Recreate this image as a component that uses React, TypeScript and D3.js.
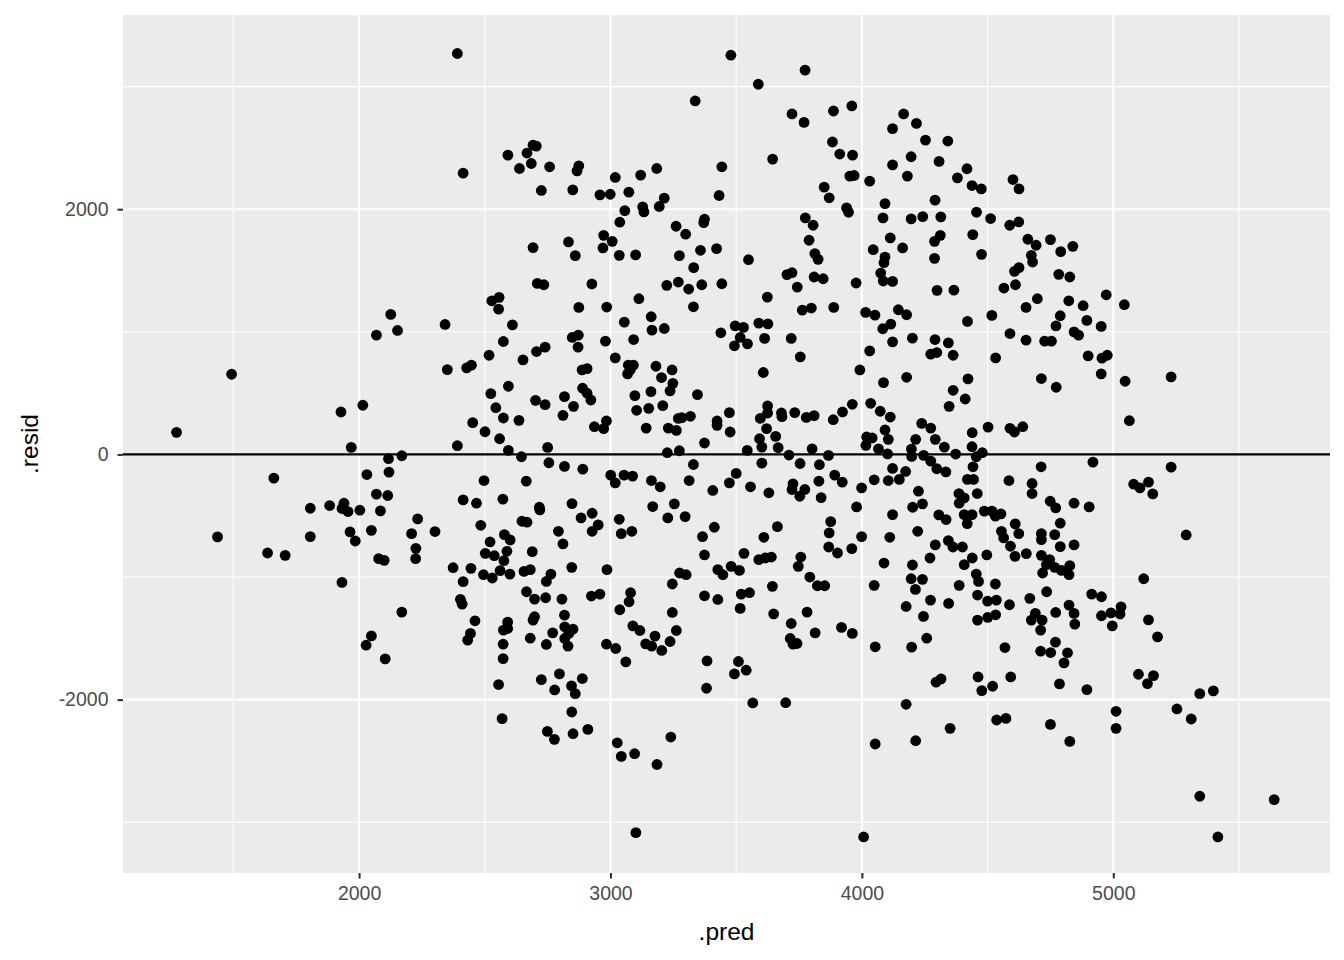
import { useEffect, useRef } from 'react'
import * as d3 from 'd3'

// residuals vs fitted values: [.pred, .resid]
const upperPoints: [number, number][] = [
  [2391, 3270], [3337, 2883], [2414, 2294], [2592, 2441], [2668, 2458], [2692, 2523], [2705, 2515], [2685, 2373],
  [2638, 2332], [2758, 2346], [2874, 2354], [2867, 2313], [2725, 2153], [2850, 2158], [2958, 2117], [2999, 2122],
  [3019, 2259], [3073, 2139], [3120, 2278], [3184, 2332], [3214, 2090], [3194, 2022], [3057, 1989], [3128, 2019],
  [3133, 1978], [3443, 2346], [3432, 2112], [3037, 1894], [2973, 1787], [3007, 1738], [2970, 1684], [3035, 1624],
  [3100, 1627], [2833, 1733], [2860, 1621], [2692, 1687], [2709, 1395], [2735, 1384], [2926, 1390], [2557, 1281],
  [2528, 1253], [3113, 1270], [3261, 1861], [3299, 1796], [3374, 1918], [3371, 1891], [3358, 1665], [3422, 1678],
  [3274, 1621], [3331, 1523], [3224, 1379], [3270, 1406], [3311, 1349], [3363, 1384], [3443, 1392],
  [3479, 3256], [3774, 3134], [3588, 3019], [3722, 2777], [3770, 2708], [3887, 2801], [3960, 2842], [3883, 2548],
  [3912, 2450], [3963, 2441], [3952, 2270], [3969, 2275], [3645, 2409], [3850, 2180], [3870, 2093], [3939, 2011],
  [3947, 1975], [4031, 2229], [4122, 2362], [4166, 2777], [4122, 2657], [4217, 2700], [4253, 2564], [4342, 2556],
  [4196, 2428], [4307, 2390], [4181, 2270], [4418, 2330], [4380, 2256], [4438, 2193], [4475, 2166], [4291, 2074],
  [4092, 2046], [4084, 1929], [4196, 1921], [4242, 1940], [4314, 1937], [4456, 1975], [4512, 1924], [4601, 2242],
  [4625, 2166], [4588, 1869], [4624, 1896], [4660, 1755], [3775, 1929], [3806, 1869], [3790, 1747], [3813, 1638],
  [3826, 1591], [3549, 1588], [3702, 1466], [3722, 1482], [3810, 1447], [3846, 1433], [3743, 1365], [3977, 1398],
  [3624, 1283], [4045, 1670], [4113, 1766], [4162, 1684], [4092, 1610], [4088, 1564], [4075, 1479], [4085, 1414],
  [4122, 1411], [4289, 1738], [4312, 1787], [4289, 1599], [4441, 1793], [4476, 1632], [4299, 1338], [4366, 1340],
  [4625, 1523], [4607, 1493], [4611, 1384], [4565, 1357],
  [4693, 1706], [4750, 1752], [4791, 1654], [4839, 1697], [4674, 1624], [4679, 1569], [4783, 1469], [4827, 1447],
  [4698, 1270], [4823, 1253], [4972, 1302],
]

const leftPoints: [number, number][] = [
  [2126, 1142], [2153, 1011], [2069, 973], [1493, 654], [1274, 180], [2015, 401], [1928, 346], [1969, 57],
  [2117, -35], [2170, -11], [2031, -164], [2119, -144], [1661, -193], [2069, -324], [2114, -335], [1806, -439],
  [1883, -417], [1940, -398], [1932, -441], [1956, -466], [2003, -455], [2085, -461], [2233, -526], [2209, -646],
  [2226, -766], [2225, -850], [1437, -673], [1806, -670], [1964, -632], [1985, -706], [2049, -619], [1636, -804],
  [1706, -823], [2078, -850], [2100, -864], [1932, -1044],
  [2170, -1286], [2049, -1480], [2028, -1556], [2104, -1668],
]

const midLeftPoints: [number, number][] = [
  [2555, 1185], [2342, 1060], [2610, 1057], [2874, 1199], [2985, 1202], [3330, 1204], [3055, 1079], [3162, 1123],
  [3165, 1014], [3214, 1027], [3439, 992], [2848, 954], [2872, 973], [2871, 875], [2980, 924], [3092, 937],
  [2574, 921], [2706, 839], [2740, 875], [2517, 809], [2652, 771], [2351, 692], [2428, 706], [2447, 728],
  [2887, 689], [2907, 700], [3019, 788], [3071, 728], [3091, 728], [3079, 692], [3068, 657], [3181, 719],
  [3245, 689], [3203, 627], [3248, 580], [3237, 518], [3161, 512], [3346, 488], [2594, 556], [2524, 496],
  [2702, 441], [2740, 406], [2817, 471], [2853, 392], [2811, 319], [2889, 540], [2907, 499], [2922, 444],
  [3097, 480], [3104, 360], [3152, 376], [3208, 398], [2544, 381], [2574, 297], [2636, 278], [2452, 259],
  [2501, 185], [2559, 128], [2391, 71], [2594, 33], [2646, -19], [2750, 57], [2755, -68], [2817, -98],
  [2890, -120], [2936, 226], [2973, 210], [2984, 273], [3142, 215], [3270, 294], [3284, 300], [3318, 311],
  [3230, 215], [3262, 196], [3424, 273], [3424, 237], [3374, 93], [3226, 14], [3274, 30], [3330, -82],
  [3313, -213], [3407, -294], [3001, -169], [3019, -232], [3054, -169], [3088, -177], [3163, -213], [3198, -264],
  [2497, -213], [2665, -218], [2414, -371], [2467, -398], [2572, -365], [2717, -431], [2719, -452], [2847, -401],
  [2883, -518], [2927, -480], [3035, -529], [3168, -425], [3254, -403], [3228, -518], [3297, -507], [2302, -629],
  [2484, -578], [2648, -545], [2668, -553], [2793, -627], [2811, -730], [2927, -627], [2951, -575], [3043, -646],
  [3085, -627], [3366, -670], [3413, -594], [3374, -820], [2521, -714], [2578, -654], [2601, -698], [2502, -807],
  [2538, -826], [2588, -790], [2576, -867], [2689, -793], [2374, -924], [2445, -929], [2414, -1038], [2495, -981],
  [2530, -1008], [2561, -948], [2600, -976], [2656, -954], [2681, -940], [2745, -1036], [2763, -976], [2846, -921],
  [2986, -940], [3275, -967], [3301, -981], [3246, -1057], [3427, -940], [3447, -981],
  [2403, -1182], [2410, -1221], [2461, -1357], [2443, -1460], [2432, -1515], [2574, -1433], [2591, -1368], [2591, -1420],
  [2573, -1548], [2573, -1665], [2555, -1877], [2666, -1120], [2698, -1180], [2742, -1169], [2807, -1180], [2924, -1155],
  [2958, -1139], [2698, -1324], [2692, -1351], [2681, -1499], [2745, -1550], [2770, -1455], [2817, -1311], [2818, -1406],
  [2851, -1425], [2818, -1501], [2831, -1564], [2834, -1460], [2725, -1837], [2797, -1790], [2778, -1921], [2845, -1888],
  [2888, -1828], [2860, -1951], [2569, -2155], [2846, -2101], [2749, -2259], [2777, -2324], [2851, -2278], [2910, -2243],
  [2984, -1548], [3021, -1583], [3061, -1692], [3037, -1267], [3074, -1202], [3080, -1128], [3246, -1289], [3374, -1153],
  [3427, -1183], [3089, -1398], [3117, -1436], [3177, -1482], [3140, -1545], [3164, -1564], [3204, -1599], [3237, -1526],
  [3262, -1436], [3384, -1684], [3382, -1907], [3027, -2352], [3043, -2463], [3096, -2441], [3185, -2529], [3240, -2305],
  [3101, -3085],
]

const midRightPoints: [number, number][] = [
  [3763, 1177], [3799, 1194], [3888, 1199], [3496, 1049], [3529, 1036], [3590, 1071], [3626, 1065], [3516, 954],
  [3493, 886], [3545, 902], [3613, 946], [3719, 946], [3755, 796], [3608, 668], [4015, 1158], [4052, 1136],
  [4145, 1180], [4178, 1139], [4083, 1025], [4115, 1063], [4122, 918], [4201, 948], [4031, 845], [3992, 689],
  [4086, 586], [4178, 629], [4291, 937], [4344, 910], [4274, 818], [4298, 831], [4363, 809], [4420, 1085],
  [4517, 1134], [4532, 788], [4589, 986], [4653, 1199], [4653, 932], [4422, 616], [4363, 523], [4411, 452],
  [4347, 392], [3473, 341], [3476, 183], [3625, 395], [3625, 338], [3596, 294], [3680, 338], [3682, 308],
  [3733, 341], [3779, 302], [3810, 316], [3886, 283], [3923, 346], [3962, 409], [3621, 210], [3657, 147],
  [3593, 128], [3602, 60], [3667, 55], [3544, 33], [3710, -5], [3802, 46], [3867, -8], [3602, -71],
  [3754, -74], [3831, -84], [3500, -155], [3473, -232], [3557, -264], [3630, -313], [3726, -240], [3722, -286],
  [3753, -341], [3773, -286], [3829, -218], [3838, -352], [3892, -169], [3922, -226], [4035, 417], [4073, 352],
  [4113, 305], [4092, 199], [4105, 123], [4019, 142], [4041, 134], [4016, 74], [4066, 46], [4102, 5],
  [4122, -114], [4049, -207], [4105, -213], [4149, -204], [4174, -139], [3999, -273], [3979, -428], [4122, -491],
  [4197, 44], [4214, 123], [4198, -16], [4238, 253], [4274, 215], [4292, 123], [4328, 60], [4246, -8],
  [4274, -55], [4298, -117], [4334, -142], [4373, 3], [4439, 177], [4438, 63], [4479, 14], [4455, -19],
  [4442, -101], [4420, -204], [4444, -204], [4502, 223], [4589, 213], [4607, 183], [4640, 226], [4585, -213],
  [4225, -300], [4241, -403], [4202, -431], [4386, -319], [4407, -354], [4387, -398], [4459, -319], [4306, -493],
  [4335, -531], [4407, -491], [4438, -491], [4419, -564], [4487, -463], [4517, -463], [4531, -504], [4553, -485],
  [4610, -567], [4624, -646], [4555, -627], [4564, -681], [4591, -749], [4654, -809], [4609, -831], [4222, -627],
  [4111, -676], [3999, -670], [3876, -548], [3870, -640], [3664, -589], [3610, -676], [3868, -755], [3903, -804],
  [3960, -768], [3531, -807], [3590, -858], [3616, -845], [3640, -837], [3757, -837], [3747, -913], [3480, -913],
  [3513, -946], [3793, -1000], [4088, -886], [4201, -902], [4271, -845], [4292, -738], [4344, -703], [4362, -755],
  [4400, -755], [4407, -899], [4439, -845], [4497, -820], [4455, -976], [4196, -1014], [4241, -1019], [4464, -1036],
  [4531, -1057], [4387, -1068], [4049, -1068], [3644, -1076], [3823, -1071], [3852, -1071],
  [3520, -1139], [3553, -1128], [3516, -1256], [3649, -1300], [3719, -1379], [3782, -1286], [3715, -1501], [3726, -1548],
  [3742, -1542], [3814, -1455], [3919, -1411], [3962, -1460], [4053, -1569], [4213, -1101], [4176, -1240], [4245, -1321],
  [4273, -1188], [4345, -1215], [4198, -1572], [4258, -1499], [4460, -1147], [4500, -1196], [4535, -1188], [4587, -1226],
  [4460, -1351], [4501, -1329], [4532, -1308], [4569, -1575], [3509, -1689], [3493, -1790], [3540, -1760], [3566, -2027],
  [3697, -2025], [4176, -2038], [4295, -1858], [4315, -1831], [4462, -1815], [4477, -1926], [4520, -1891], [4592, -1815],
  [4053, -2362], [4214, -2335], [4351, -2234], [4536, -2166], [4573, -2153], [4007, -3120],
]

const rightPoints: [number, number][] = [
  [4880, 1213], [5044, 1221], [4789, 1131], [4895, 1093], [4952, 1044], [4772, 1049], [4844, 1000], [4862, 973],
  [4727, 924], [4754, 924], [4900, 804], [4955, 785], [4976, 809], [4952, 657], [4714, 619], [4773, 548],
  [5047, 597], [5230, 632], [5064, 275], [4919, -63], [4713, -101], [5230, -104], [4677, -237], [4677, -319],
  [5081, -243], [5106, -273], [5140, -226], [5157, -322], [4749, -382], [4771, -436], [4844, -398], [4904, -428],
  [4789, -561], [4714, -646], [4714, -695], [4767, -654], [4789, -752], [4844, -738], [5290, -657], [4714, -823],
  [4747, -858], [4734, -899], [4767, -921], [4794, -946], [4827, -907], [4824, -981], [4719, -967], [5121, -1014],
  [4668, -1174], [4735, -1120], [4914, -1139], [4953, -1161], [4824, -1229], [4844, -1297], [4847, -1384], [4771, -1289],
  [4690, -1297], [4674, -1351], [4717, -1351], [4711, -1433], [4953, -1316], [4991, -1292], [5031, -1243], [5027, -1302],
  [4996, -1398], [5140, -1349], [5176, -1488], [4770, -1531], [4711, -1605], [4751, -1616], [4818, -1618], [4804, -1700],
  [4786, -1872], [4895, -1918], [5100, -1793], [5160, -1804], [5136, -1869], [5344, -1951], [5398, -1929], [5011, -2095],
  [5011, -2234], [5253, -2076], [5310, -2158], [4750, -2202], [4827, -2341], [5344, -2788], [5640, -2815], [5416, -3120],
]

const xTicks = [2000, 3000, 4000, 5000]
const xMinor = [1500, 2500, 3500, 4500, 5500]
const yTicks = [-2000, 0, 2000]
const yMinor = [-3000, -1000, 1000, 3000]

export default function App() {
  const ref = useRef<SVGSVGElement>(null)

  useEffect(() => {
    if (!ref.current) return
    const svg = d3.select(ref.current)
    svg.selectAll('*').remove()

    const width = 1344
    const height = 960
    const panel = { left: 123, right: 1330, top: 15, bottom: 873 }
    const font = '"Liberation Sans", Arial, Helvetica, sans-serif'

    const points = [...upperPoints, ...leftPoints, ...midLeftPoints, ...midRightPoints, ...rightPoints]

    const x = d3.scaleLinear().domain([1061, 5862]).range([panel.left, panel.right])
    const y = d3.scaleLinear().domain([-3414, 3584]).range([panel.bottom, panel.top])

    svg.append('rect').attr('width', width).attr('height', height).attr('fill', '#ffffff')

    // panel
    svg.append('rect')
      .attr('x', panel.left).attr('y', panel.top)
      .attr('width', panel.right - panel.left).attr('height', panel.bottom - panel.top)
      .attr('fill', '#EBEBEB')

    // minor grid
    xMinor.forEach(v => {
      svg.append('line')
        .attr('x1', x(v)).attr('x2', x(v)).attr('y1', panel.top).attr('y2', panel.bottom)
        .attr('stroke', '#fff').attr('stroke-width', 1.05)
    })
    yMinor.forEach(v => {
      svg.append('line')
        .attr('x1', panel.left).attr('x2', panel.right).attr('y1', y(v)).attr('y2', y(v))
        .attr('stroke', '#fff').attr('stroke-width', 1.05)
    })
    // major grid
    xTicks.forEach(v => {
      svg.append('line')
        .attr('x1', x(v)).attr('x2', x(v)).attr('y1', panel.top).attr('y2', panel.bottom)
        .attr('stroke', '#fff').attr('stroke-width', 2.1)
    })
    yTicks.forEach(v => {
      svg.append('line')
        .attr('x1', panel.left).attr('x2', panel.right).attr('y1', y(v)).attr('y2', y(v))
        .attr('stroke', '#fff').attr('stroke-width', 2.1)
    })

    // points
    svg.append('g')
      .selectAll('circle')
      .data(points)
      .join('circle')
      .attr('cx', d => x(d[0]))
      .attr('cy', d => y(d[1]))
      .attr('r', 5.4)
      .attr('fill', '#000')

    // zero line
    svg.append('line')
      .attr('x1', panel.left).attr('x2', panel.right)
      .attr('y1', y(0)).attr('y2', y(0))
      .attr('stroke', '#000').attr('stroke-width', 2.1)

    // axes
    const xAxis = svg.append('g')
      .attr('transform', `translate(0,${panel.bottom})`)
      .call(d3.axisBottom(x).tickValues(xTicks).tickSize(5.5).tickPadding(7.5).tickFormat(d => String(d)))
    const yAxis = svg.append('g')
      .attr('transform', `translate(${panel.left},0)`)
      .call(d3.axisLeft(y).tickValues(yTicks).tickSize(5.5).tickPadding(9).tickFormat(d => String(d)))

    ;[xAxis, yAxis].forEach(ax => {
      ax.select('.domain').remove()
      ax.selectAll('line').attr('stroke', '#333333').attr('stroke-width', 2.1)
      ax.selectAll('text')
        .attr('fill', '#4D4D4D')
        .style('font-family', font)
        .style('font-size', '19.5px')
    })

    svg.append('text')
      .attr('x', (panel.left + panel.right) / 2).attr('y', 940)
      .attr('text-anchor', 'middle')
      .style('font-family', font).style('font-size', '24.5px')
      .attr('fill', '#000')
      .text('.pred')

    svg.append('text')
      .attr('transform', `translate(38,${(panel.top + panel.bottom) / 2}) rotate(-90)`)
      .attr('text-anchor', 'middle')
      .style('font-family', font).style('font-size', '24.5px')
      .attr('fill', '#000')
      .text('.resid')
  }, [])

  return (
    <svg
      ref={ref}
      width={1344}
      height={960}
      style={{ position: 'absolute', left: 0, top: 0, display: 'block' }}
    />
  )
}
